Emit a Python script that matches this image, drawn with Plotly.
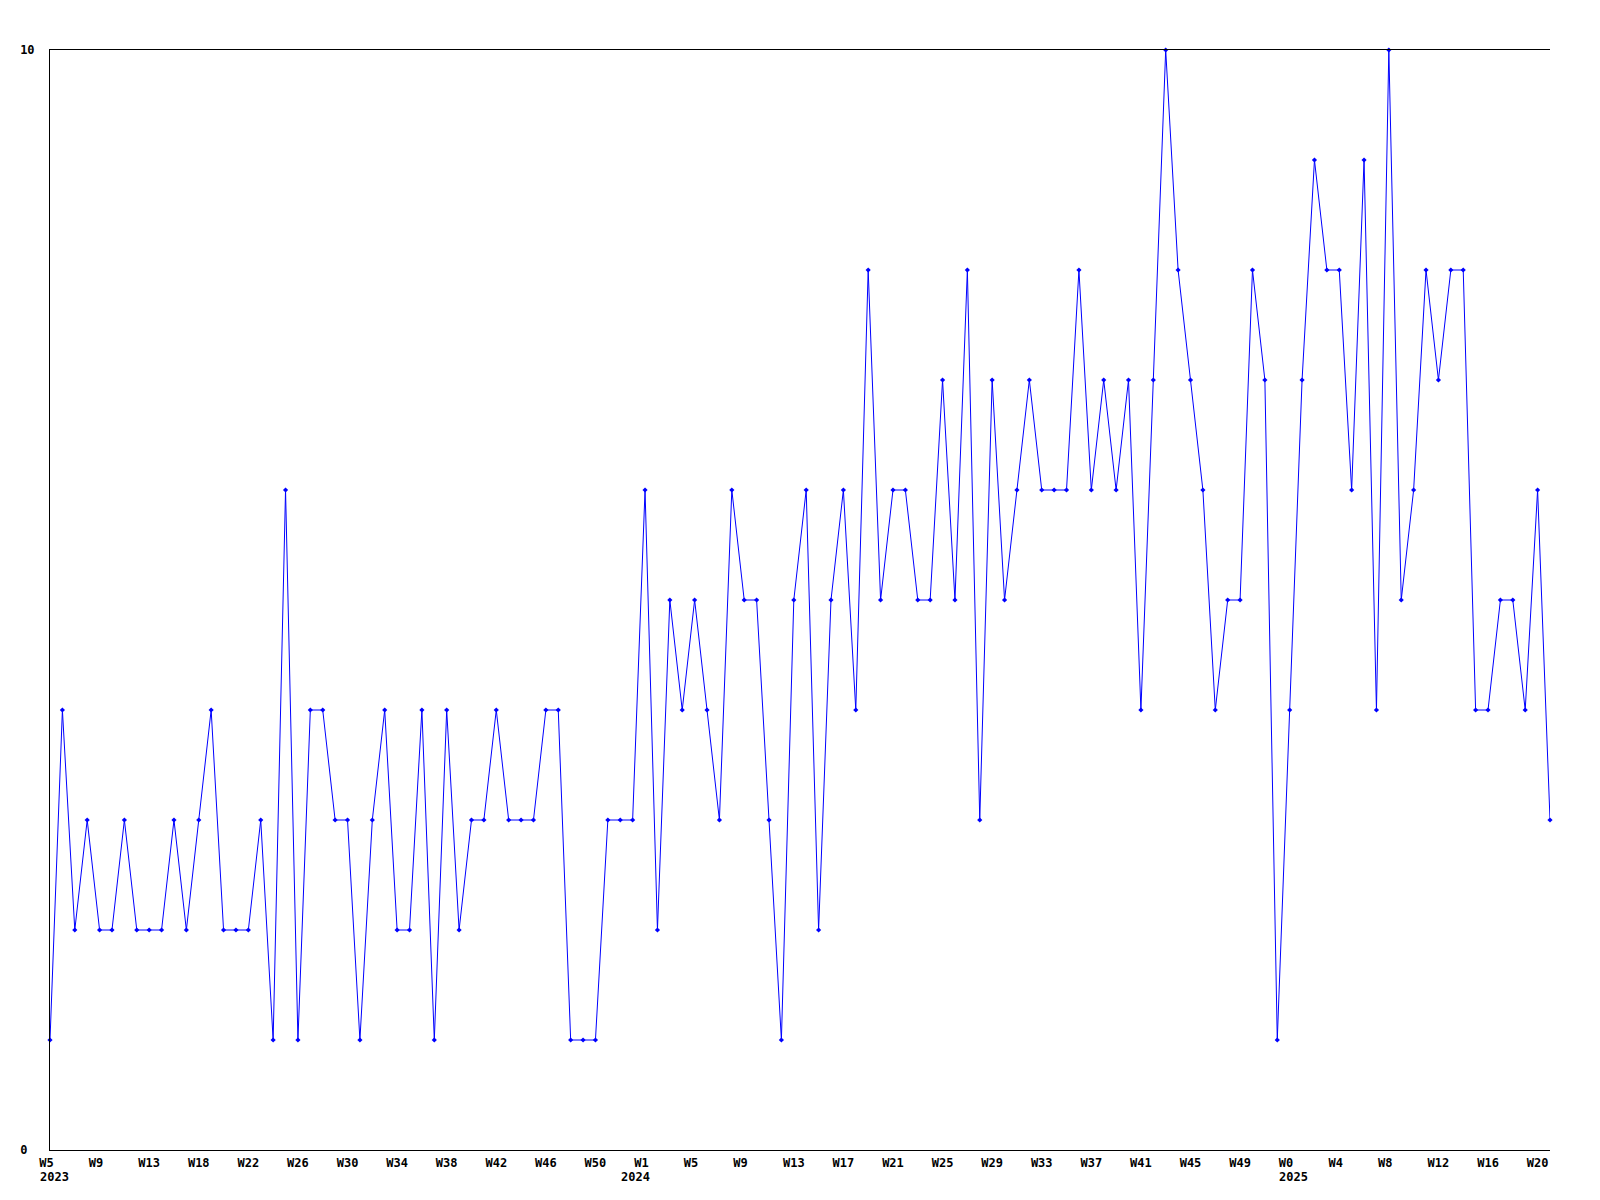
import plotly.graph_objects as go

# weekly values (one per week, oldest first)
values = [
    1, 4, 2, 3, 2, 2, 3, 2, 2, 2, 3, 2, 3, 4, 2, 2, 2, 3, 1, 6,
    1, 4, 4, 3, 3, 1, 3, 4, 2, 2, 4, 1, 4, 2, 3, 3, 4, 3, 3, 3,
    4, 4, 1, 1, 1, 3, 3, 3, 6, 2, 5, 4, 5, 4, 3, 6, 5, 5, 3, 1,
    5, 6, 2, 5, 6, 4, 8, 5, 6, 6, 5, 5, 7, 5, 8, 3, 7, 5, 6, 7,
    6, 6, 6, 8, 6, 7, 6, 7, 4, 7, 10, 8, 7, 6, 4, 5, 5, 8, 7, 1,
    4, 7, 9, 8, 8, 6, 9, 4, 10, 5, 6, 8, 7, 8, 8, 4, 4, 5, 5, 4,
    6, 3,
]

# x tick labels, one every 4 weeks
week_labels = [
    "W5", "W9", "W13", "W18", "W22", "W26", "W30", "W34", "W38", "W42",
    "W46", "W50", "W1", "W5", "W9", "W13", "W17", "W21", "W25", "W29",
    "W33", "W37", "W41", "W45", "W49", "W0", "W4", "W8", "W12", "W16", "W20",
]
tick_step = 4

# year labels: (tick label index, year text)
year_tick_index = [0, 12, 25]
year_text = ["2023", "2024", "2025"]
year_anchor = ["left", "right", "left"]
year_shift = [-12, 7, -13]

y_ticks = [0, 10]

x = list(range(len(values)))
tickvals = [i * tick_step for i in range(len(week_labels))]
ticktext = [lab if len(lab) >= 3 else lab + "\u00a0" for lab in week_labels]

font_family = "DejaVu Sans Mono"

fig = go.Figure()
fig.add_trace(go.Scatter(
    x=x, y=values, mode="lines+markers",
    line=dict(color="#0000ff", width=1),
    marker=dict(symbol="diamond", size=4, color="#0000ff"),
    cliponaxis=False,
    hoverinfo="skip",
))

for ti, txt, anc, sh in zip(year_tick_index, year_text, year_anchor, year_shift):
    fig.add_annotation(
        x=tickvals[ti], xref="x", y=0, yref="paper",
        text=txt, showarrow=False,
        xanchor=anc, yanchor="top",
        xshift=sh,
        yshift=-18,
        font=dict(family=font_family, size=12, color="black", weight="bold"),
    )

fig.update_layout(
    width=1600, height=1200, autosize=False,
    margin=dict(l=50, r=50, t=50, b=50, pad=0),
    paper_bgcolor="white", plot_bgcolor="white",
    showlegend=False,
    font=dict(family=font_family, size=12, color="black"),
)
fig.update_xaxes(
    range=[0, len(values) - 1],
    tickmode="array", tickvals=tickvals, ticktext=ticktext,
    showgrid=False, zeroline=False,
    showline=True, linecolor="black", linewidth=1, mirror=True,
    ticks="", ticklabelstandoff=2,
    tickfont=dict(family=font_family, size=12, color="black", weight="bold"),
    tickangle=0,
)
fig.update_yaxes(
    range=[0, 10],
    tickmode="array", tickvals=y_ticks,
    ticktext=[str(v) + ("\u00a0" if v < 10 else "") for v in y_ticks],
    showgrid=False,
    zeroline=False,
    showline=True, linecolor="black", linewidth=1,
    ticks="", ticklabelstandoff=12,
    tickfont=dict(family=font_family, size=12, color="black", weight="bold"),
)

fig.write_html(
    "out.html",
    config={"displayModeBar": False},
    post_script="document.body.style.margin='0';",
)
